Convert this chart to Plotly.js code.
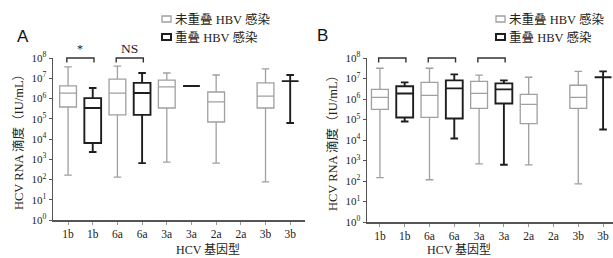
<!DOCTYPE html>
<html>
<head>
<meta charset="utf-8">
<script src="https://cdn.plot.ly/plotly-3.0.1.min.js"></script>
<style>html,body{margin:0;padding:0;background:#fff;}#chart{width:613px;height:258px;}</style>
</head>
<body>
<div id="chart"></div>
<script>
// ---- Data (values are log10 of HCV RNA titer, IU/mL) ----
const categories = ['1b', '1b', '6a', '6a', '3a', '3a', '2a', '2a', '3b', '3b'];
const legendLabels = ['未重叠 HBV 感染', '重叠 HBV 感染'];
const xTitle = 'HCV 基因型';
const yTitle = 'HCV RNA 滴度（IU/mL）';
const yTickExps = [0, 1, 2, 3, 4, 5, 6, 7, 8];

// Panel A
const aGrayPos = [0, 2, 4, 6, 8];
const aGrayUpper = [7.56, 7.60, 7.26, 7.16, 7.46];
const aGrayQ3 = [6.62, 6.96, 6.91, 6.32, 6.77];
const aGrayMedian = [6.27, 6.27, 6.57, 5.83, 6.12];
const aGrayQ1 = [5.58, 5.19, 5.53, 4.84, 5.53];
const aGrayLower = [2.22, 2.12, 2.86, 2.81, 1.88];

const aBlackPos = [1, 3, 5, 9];
const aBlackUpper = [6.52, 7.26, 6.62, 7.16];
const aBlackQ3 = [6.02, 6.77, 6.62, 6.86];
const aBlackMedian = [5.53, 6.27, 6.62, 6.86];
const aBlackQ1 = [3.80, 5.19, 6.62, 6.86];
const aBlackLower = [3.36, 2.81, 6.62, 4.79];

const aBracketStart = [0, 2];
const aBracketLabels = ['*', 'NS'];

// Panel B
const bGrayPos = [0, 2, 4, 6, 8];
const bGrayUpper = [7.50, 7.50, 7.16, 7.06, 7.35];
const bGrayQ3 = [6.47, 6.81, 6.86, 6.23, 6.67];
const bGrayMedian = [6.08, 6.18, 6.27, 5.74, 6.08];
const bGrayQ1 = [5.49, 5.10, 5.54, 4.80, 5.54];
const bGrayLower = [2.16, 2.06, 2.84, 2.79, 1.86];

const bBlackPos = [1, 3, 5, 9];
const bBlackUpper = [6.81, 7.20, 6.91, 7.35];
const bBlackQ3 = [6.62, 6.91, 6.76, 7.06];
const bBlackMedian = [6.27, 6.52, 6.47, 7.06];
const bBlackQ1 = [5.10, 5.05, 5.78, 7.06];
const bBlackLower = [4.90, 4.07, 2.79, 4.51];

const bBracketStart = [0, 2, 4];
const bBracketLabels = ['', '', ''];

// ---- Styling ----
const W = 613, H = 258;
const px = x => x / W;
const py = y => 1 - y / H;
const GRAY = '#a0a0a0';
const BLACK = '#1e1e1e';
const SERIF = '"Liberation Serif", "Noto Sans CJK SC", serif';
const CJK = '"Liberation Serif", "Noto Sans CJK SC", serif';

function boxTrace(pos, lo, q1, med, q3, hi, color, lw, xa, ya) {
  return {
    type: 'box', x: pos, q1: q1, median: med, q3: q3,
    lowerfence: lo, upperfence: hi,
    xaxis: xa, yaxis: ya,
    boxpoints: false, width: 0.68, whiskerwidth: 0.45,
    fillcolor: 'rgba(255,255,255,1)',
    line: {color: color, width: lw},
    showlegend: false, hoverinfo: 'skip'
  };
}

const traces = [
  boxTrace(aGrayPos, aGrayLower, aGrayQ1, aGrayMedian, aGrayQ3, aGrayUpper, GRAY, 1.3, 'x', 'y'),
  boxTrace(aBlackPos, aBlackLower, aBlackQ1, aBlackMedian, aBlackQ3, aBlackUpper, BLACK, 1.9, 'x', 'y'),
  boxTrace(bGrayPos, bGrayLower, bGrayQ1, bGrayMedian, bGrayQ3, bGrayUpper, GRAY, 1.3, 'x2', 'y2'),
  boxTrace(bBlackPos, bBlackLower, bBlackQ1, bBlackMedian, bBlackQ3, bBlackUpper, BLACK, 1.9, 'x2', 'y2')
];

const tickVals = categories.map((c, i) => i);
const yTickText = yTickExps.map(e => '10<sup>' + e + '</sup>');

function xAxis(domain, range) {
  return {
    domain: domain, range: range, tickvals: tickVals, ticktext: categories,
    showline: true, linecolor: '#555', linewidth: 1.5,
    ticks: 'outside', ticklen: 3, tickcolor: '#999', tickwidth: 1,
    showgrid: false, zeroline: false, fixedrange: true,
    tickfont: {family: SERIF, size: 11.5, color: '#222'}
  };
}
function yAxis(domain, anchor) {
  return {
    domain: domain, range: [0, 8], anchor: anchor,
    tickvals: yTickExps, ticktext: yTickText,
    showline: true, linecolor: '#555', linewidth: 1.5,
    ticks: 'outside', ticklen: 3, tickcolor: '#555', tickwidth: 1,
    showgrid: false, zeroline: false, fixedrange: true,
    tickfont: {family: SERIF, size: 11, color: '#222'},
    title: {text: yTitle, font: {family: CJK, size: 12.5, color: '#222'}, standoff: 5}
  };
}

const shapes = [];
const annotations = [];

function addBrackets(starts, labels, xref, yTop) {
  starts.forEach((s, i) => {
    const x0 = s - 0.05, x1 = s + 1.05;
    const yA = py(yTop), yB = py(yTop + 4.5);
    shapes.push({type: 'path', xref: xref, yref: 'paper',
      path: `M ${x0},${yB} L ${x0},${yA} L ${x1},${yA} L ${x1},${yB}`,
      line: {color: '#333', width: 1.4}});
    if (labels[i]) {
      annotations.push({xref: xref, yref: 'paper', x: s + 0.5, y: yA,
        yanchor: 'bottom', text: labels[i], showarrow: false,
        font: {family: SERIF, size: labels[i] === '*' ? 12 : 13.5, color: '#222'}});
    }
  });
}
addBrackets(aBracketStart, aBracketLabels, 'x', 58);
addBrackets(bBracketStart, bBracketLabels, 'x2', 58);

function addLegend(xSym, xText, rows) {
  const colors = [GRAY, BLACK];
  const lws = [1.3, 2];
  rows.forEach((yc, i) => {
    shapes.push({type: 'rect', xref: 'paper', yref: 'paper',
      x0: px(xSym), x1: px(xSym + 9), y0: py(yc + 3), y1: py(yc - 3),
      line: {color: colors[i], width: lws[i]}, fillcolor: 'white'});
    annotations.push({xref: 'paper', yref: 'paper', x: px(xText), y: py(yc),
      xanchor: 'left', yanchor: 'middle', text: legendLabels[i], showarrow: false,
      font: {family: CJK, size: 12.5, color: '#222'}});
  });
}
addLegend(162, 173, [19, 37]);
addLegend(496, 507, [19, 37]);

// x-axis titles (placed under each panel)
annotations.push({xref: 'paper', yref: 'paper', x: px(174), y: py(250), text: xTitle,
  showarrow: false, yanchor: 'middle', font: {family: CJK, size: 12, color: '#222'}});
annotations.push({xref: 'paper', yref: 'paper', x: px(493), y: py(250), text: xTitle,
  showarrow: false, yanchor: 'middle', font: {family: CJK, size: 12, color: '#222'}});

annotations.push({xref: 'paper', yref: 'paper', x: px(15), y: py(25), text: 'A',
  showarrow: false, font: {family: '"Liberation Sans", Arial, sans-serif', size: 17, color: '#111'}});
annotations.push({xref: 'paper', yref: 'paper', x: px(322), y: py(24), text: 'B',
  showarrow: false, font: {family: '"Liberation Sans", Arial, sans-serif', size: 17, color: '#111'}});

const layout = {
  width: W, height: H,
  margin: {l: 0, r: 0, t: 0, b: 0},
  paper_bgcolor: '#fff', plot_bgcolor: 'rgba(0,0,0,0)',
  showlegend: false, boxmode: 'overlay',
  xaxis: xAxis([px(53), px(305)], [-0.61, 9.6]),
  yaxis: yAxis([py(220), py(58)], 'x'),
  xaxis2: xAxis([px(367), 1], [-0.52, 9.4]),
  yaxis2: yAxis([py(222), py(58)], 'x2'),
  shapes: shapes, annotations: annotations
};
layout.xaxis.anchor = 'y';
layout.xaxis2.anchor = 'y2';

Plotly.newPlot('chart', traces, layout, {staticPlot: true, displayModeBar: false});
</script>
</body>
</html>
